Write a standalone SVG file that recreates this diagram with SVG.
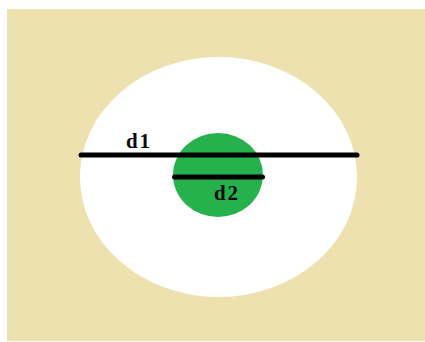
<svg xmlns="http://www.w3.org/2000/svg" width="425" height="342" viewBox="0 0 425 342">
<style>
.lbl{font-family:"Liberation Serif","Times New Roman",serif;font-weight:bold;font-size:21px;fill:#0a0a14;text-anchor:middle}
.bar{stroke:#000;stroke-width:5;stroke-linecap:round;fill:none}
</style>
<rect x="0" y="0" width="425" height="342" fill="#ffffff"/>
<rect x="7" y="9" width="418" height="332" fill="#eee1b0"/>
<g id="outer"><ellipse cx="218.5" cy="177" rx="138.5" ry="120" fill="#ffffff"/></g>
<g id="inner"><ellipse cx="218" cy="175" rx="45" ry="42" fill="#25b14c"/></g>
<g id="connectors">
<line class="bar" x1="81" y1="155" x2="357" y2="155"/>
<line class="bar" x1="174.5" y1="177" x2="262.5" y2="177"/>
</g>
<text class="lbl" x="138" y="147.5" textLength="24">d1</text>
<text class="lbl" x="226" y="199.5" textLength="24">d2</text>
</svg>
